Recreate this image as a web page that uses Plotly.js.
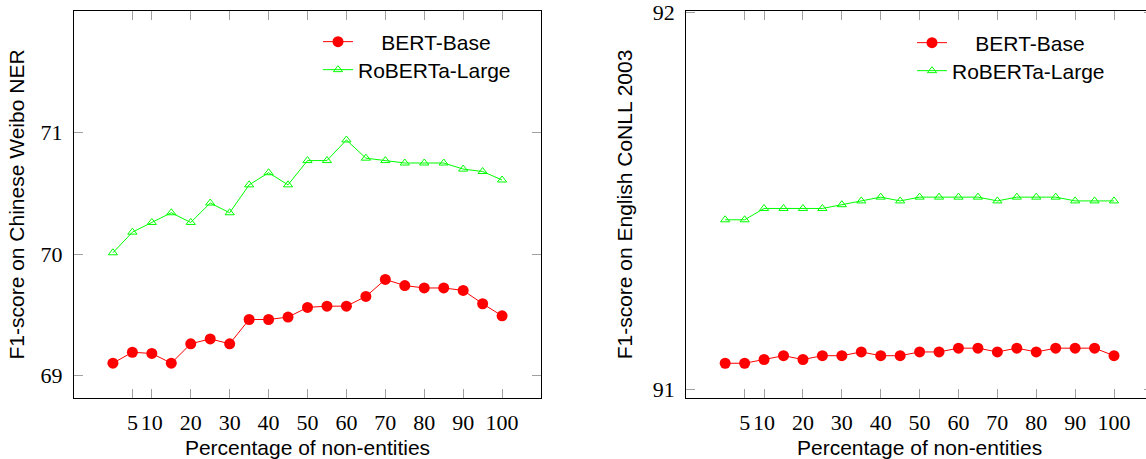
<!DOCTYPE html>
<html>
<head>
<meta charset="utf-8">
<script src="https://cdn.plot.ly/plotly-3.0.1.min.js"></script>
<style>
html, body { margin: 0; padding: 0; overflow: hidden; background: #fff; }
#chart { width: 1160px; height: 459px; }
</style>
</head>
<body>
<div id="chart"></div>
<script>
// ---- data ----
var percentages = [0, 5, 10, 15, 20, 25, 30, 35, 40, 45, 50, 55, 60, 65, 70, 75, 80, 85, 90, 95, 100];
var xTickValues = [5, 10, 20, 30, 40, 50, 60, 70, 80, 90, 100];
var xTickLabels = ['5', '10', '20', '30', '40', '50', '60', '70', '80', '90', '100'];

var weiboBertBase = [69.10, 69.19, 69.18, 69.10, 69.26, 69.30, 69.26, 69.46, 69.46, 69.48, 69.56,
                     69.57, 69.57, 69.65, 69.79, 69.74, 69.72, 69.72, 69.70, 69.59, 69.49];
var weiboRobertaLarge = [70.01, 70.18, 70.26, 70.34, 70.26, 70.42, 70.34, 70.57, 70.67, 70.57, 70.77,
                         70.77, 70.94, 70.79, 70.77, 70.75, 70.75, 70.75, 70.70, 70.68, 70.61];
var conllBertBase = [91.07, 91.07, 91.08, 91.09, 91.08, 91.09, 91.09, 91.10, 91.09, 91.09, 91.10,
                     91.10, 91.11, 91.11, 91.10, 91.11, 91.10, 91.11, 91.11, 91.11, 91.09];
var conllRobertaLarge = [91.45, 91.45, 91.48, 91.48, 91.48, 91.48, 91.49, 91.50, 91.51, 91.50, 91.51,
                         91.51, 91.51, 91.51, 91.50, 91.51, 91.51, 91.51, 91.50, 91.50, 91.50];

var seriesNames = ['BERT-Base', 'RoBERTa-Large'];
var weiboYTicks = [69, 70, 71];
var conllYTicks = [91, 92];
var xTitle = 'Percentage of non-entities';
var weiboYTitle = 'F1-score on Chinese Weibo NER';
var conllYTitle = 'F1-score on English CoNLL 2003';

// ---- styling ----
var RED = 'rgb(255,0,0)';
var GREEN = 'rgb(0,255,0)';
var W = 1160, H = 459;
var pad = '\u00a0\u00a0\u00a0\u00a0';

function bertTrace(y, xa, ya, lg) {
  return { x: percentages, y: y, xaxis: xa, yaxis: ya, legend: lg, name: pad + seriesNames[0],
    type: 'scatter', mode: 'lines+markers',
    line: { color: RED, width: 1 },
    marker: { symbol: 'circle', size: 11, color: RED } };
}
function robertaTrace(y, xa, ya, lg) {
  return { x: percentages, y: y, xaxis: xa, yaxis: ya, legend: lg, name: seriesNames[1],
    type: 'scatter', mode: 'lines+markers',
    line: { color: GREEN, width: 1 },
    marker: { symbol: 'triangle-up-open', size: 8, color: GREEN, line: { color: GREEN, width: 1 } } };
}

var data = [
  bertTrace(weiboBertBase, 'x', 'y', 'legend'),
  robertaTrace(weiboRobertaLarge, 'x', 'y', 'legend2'),
  bertTrace(conllBertBase, 'x2', 'y2', 'legend3'),
  robertaTrace(conllRobertaLarge, 'x2', 'y2', 'legend4')
];

var tickFont = { family: 'Liberation Serif, DejaVu Serif, serif', size: 22, color: '#000' };
var titleFont = { family: 'Liberation Sans, Arial, sans-serif', size: 21, color: '#000' };

function xAxis(domain, anchor) {
  return { domain: domain, anchor: anchor, range: [-10, 110],
    tickmode: 'array', tickvals: xTickValues, ticktext: xTickLabels, tickangle: 0,
    ticks: 'inside', ticklen: 9, tickwidth: 1, tickcolor: '#a0a0a0',
    showline: true, linecolor: '#000', linewidth: 1.2, mirror: 'allticks',
    showgrid: false, zeroline: false, tickfont: tickFont, ticklabelstandoff: 4,
    ticklabeloverflow: 'allow',
    title: { text: xTitle, font: titleFont, standoff: 15 } };
}
function yAxis(domain, anchor, range, tickvals, title, standoff) {
  return { domain: domain, anchor: anchor, range: range,
    tickmode: 'array', tickvals: tickvals,
    ticks: 'inside', ticklen: 9, tickwidth: 1, tickcolor: '#a0a0a0',
    showline: true, linecolor: '#000', linewidth: 1.2, mirror: 'allticks',
    showgrid: false, zeroline: false, tickfont: tickFont, ticklabelstandoff: 6,
    ticklabeloverflow: 'allow',
    title: { text: title, font: titleFont, standoff: standoff } };
}

function legendAt(px, py) {
  return { x: px / W, y: 1 - py / H, xanchor: 'left', yanchor: 'middle',
    bgcolor: 'rgba(0,0,0,0)', borderwidth: 0, font: titleFont };
}

var yDomain = [61 / H, 448 / H];
var layout = {
  width: W, height: H,
  margin: { l: 0, r: 0, t: 0, b: 0 },
  paper_bgcolor: '#fff', plot_bgcolor: '#fff',
  showlegend: true,
  xaxis: xAxis([74 / W, 541 / W], 'y'),
  yaxis: yAxis(yDomain, 'x', [68.813, 72.003], weiboYTicks, weiboYTitle, 10),
  xaxis2: xAxis([686.3 / W, 1152.9 / W], 'y2'),
  yaxis2: yAxis(yDomain, 'x2', [90.978, 92.003], conllYTicks, conllYTitle, 14),
  legend: legendAt(318, 42),
  legend2: legendAt(318, 70),
  legend3: legendAt(912, 43),
  legend4: legendAt(912, 71)
};

Plotly.newPlot('chart', data, layout, { displayModeBar: false, staticPlot: true });
</script>
</body>
</html>
